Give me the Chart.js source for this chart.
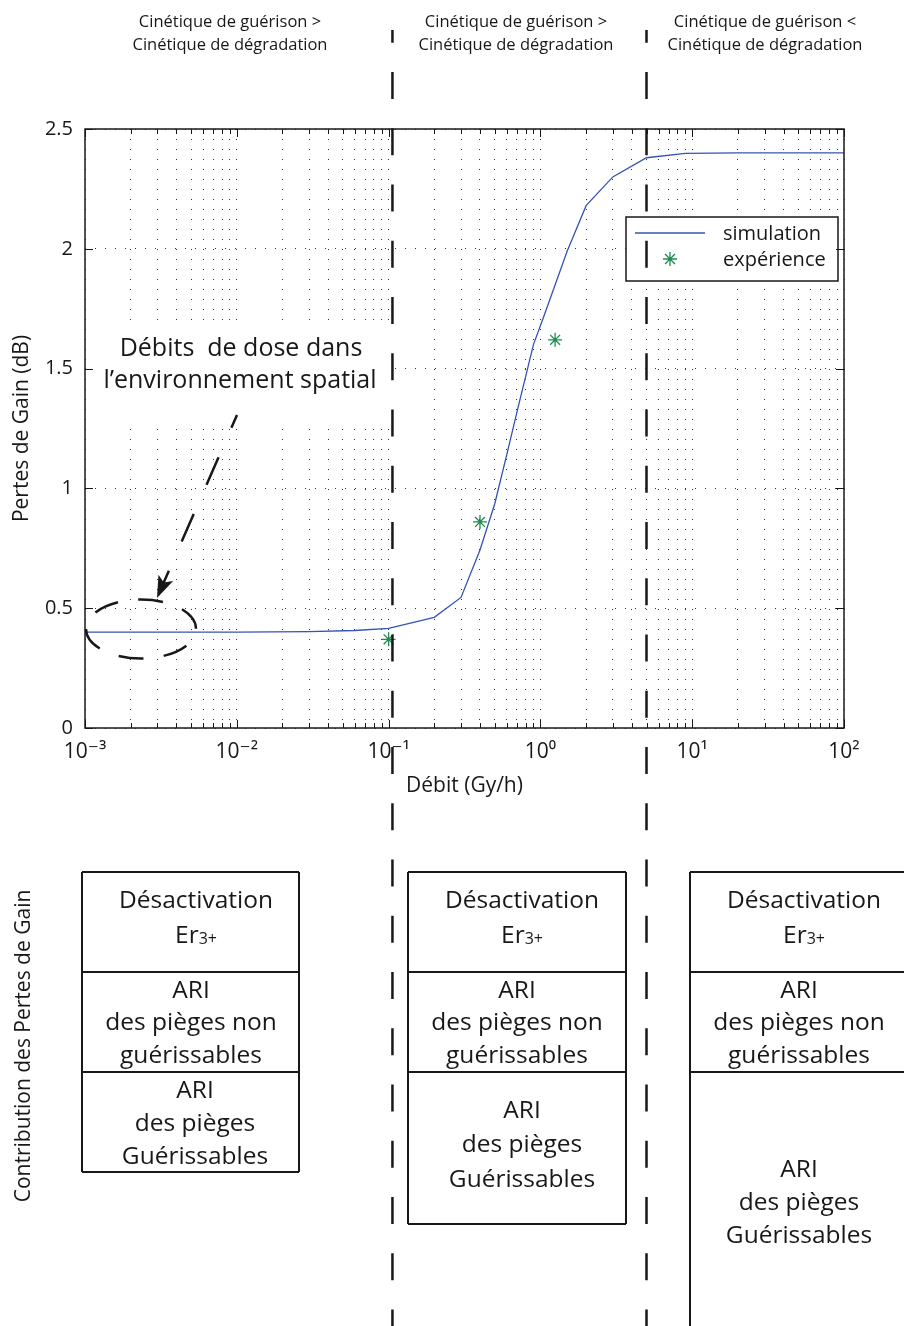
<!DOCTYPE html>
<html>
<head>
<meta charset="utf-8">
<script src="https://cdn.jsdelivr.net/npm/chart.js@4.4.0/dist/chart.umd.min.js"></script>
<style>
  body { margin: 0; background: #fff; }
  #wrap { width: 904px; height: 1326px; }
</style>
</head>
<body>
<div id="wrap"><canvas id="fig" width="904" height="1326"></canvas></div>
<script>
// simulation : pertes de gain (dB) vs débit de dose (Gy/h)
var simX = [0.001, 0.01, 0.03, 0.06, 0.1, 0.2, 0.3, 0.4, 0.5, 0.6, 0.72, 0.9, 1.05, 1.5, 2, 3, 5, 9, 20, 100];
var simY = [0.400, 0.400, 0.402, 0.407, 0.416, 0.462, 0.545, 0.743, 0.935, 1.14, 1.35, 1.60, 1.715, 1.99, 2.18, 2.30, 2.38, 2.398, 2.40, 2.40];

// mesures
var expX = [0.1, 0.4, 1.25];
var expY = [0.37, 0.86, 1.62];

// axe x logarithmique : décades étiquetées + graduations mineures
var decades = [0.001, 0.01, 0.1, 1, 10, 100];
var decadeLabels = ['10⁻³', '10⁻²', '10⁻¹', '10⁰', '10¹', '10²'];
var minorSteps = [2, 3, 4, 5, 6, 7, 8, 9];
var yMin = 0, yMax = 2.5, yStep = 0.5;

// limites entre régimes (Gy/h)
var regimeLimits = [0.106, 5];
var regimeTitles = [
  ['Cinétique de guérison >', 'Cinétique de dégradation'],
  ['Cinétique de guérison >', 'Cinétique de dégradation'],
  ['Cinétique de guérison <', 'Cinétique de dégradation']
];

// contenu des boîtes
var rowDesact = ['Désactivation', 'Er', '3+'];
var rowNonGuer = ['ARI', 'des pièges non', 'guérissables'];
var rowGuer = ['ARI', 'des pièges', 'Guérissables'];

var FONT = '"Open Sans", "DejaVu Sans", sans-serif';
var INK = '#1a1718';
var BLUE = '#3454b4';
var GREEN = '#1e8c4e';

function txt(ctx, s, x, y, size, align) {
  ctx.font = size + 'px ' + FONT;
  ctx.textAlign = align || 'center';
  ctx.textBaseline = 'alphabetic';
  ctx.fillText(s, x, y);
}

var figure = {
  id: 'figure',
  beforeDatasetsDraw: function (chart) {
    var ctx = chart.ctx;
    ctx.save();
    ctx.fillStyle = '#fff';
    ctx.fillRect(86, 322, 304, 99);
    ctx.restore();
  },
  afterDatasetsDraw: function (chart) {
    var ctx = chart.ctx;
    ctx.save();
    ctx.fillStyle = INK;
    ctx.strokeStyle = INK;
    // annotation
    txt(ctx, 'Débits  de dose dans', 241, 356, 25);
    txt(ctx, 'l’environnement spatial', 240, 388, 25);

    // flèche en tirets
    var x0 = 237, y0 = 415, tx = 157, ty = 598;
    ctx.lineWidth = 2.5;
    ctx.setLineDash([30, 32]);
    ctx.lineDashOffset = 16;
    ctx.beginPath();
    ctx.moveTo(x0, y0);
    ctx.lineTo(tx + 3, ty - 7);
    ctx.stroke();
    ctx.setLineDash([]);
    var L = Math.hypot(tx - x0, ty - y0);
    var ux = (tx - x0) / L, uy = (ty - y0) / L;
    var bx = tx - 22 * ux, by = ty - 22 * uy;
    var nx = bx + 5 * ux, ny = by + 5 * uy;
    ctx.beginPath();
    ctx.moveTo(tx, ty);
    ctx.lineTo(bx - 8 * uy, by + 8 * ux);
    ctx.lineTo(nx, ny);
    ctx.lineTo(bx + 8 * uy, by - 8 * ux);
    ctx.closePath();
    ctx.fill();

    // ellipse en tirets
    ctx.setLineDash([25, 20.3]);
    ctx.lineDashOffset = 0;
    ctx.beginPath();
    ctx.ellipse(141, 629, 55, 29.5, 0, Math.PI, -Math.PI, true);
    ctx.stroke();
    ctx.setLineDash([]);

    // légende
    ctx.fillStyle = '#fff';
    ctx.fillRect(626, 217, 212, 64);
    ctx.lineWidth = 1.5;
    ctx.strokeRect(626, 217, 212, 64);
    ctx.strokeStyle = BLUE;
    ctx.lineWidth = 1.3;
    ctx.beginPath();
    ctx.moveTo(635, 233);
    ctx.lineTo(705, 233);
    ctx.stroke();
    ctx.strokeStyle = GREEN;
    Chart.helpers.drawPoint(ctx, {pointStyle: 'star', radius: 7, rotation: 0, borderWidth: 1.3}, 670, 259);
    ctx.fillStyle = INK;
    txt(ctx, 'simulation', 723, 240, 20, 'left');
    txt(ctx, 'expérience', 723, 266, 20, 'left');
    ctx.restore();
  },
  afterDraw: function (chart) {
    var ctx = chart.ctx;
    var a = chart.chartArea;
    var xs = chart.scales.x, ys = chart.scales.y;
    ctx.save();
    ctx.strokeStyle = INK;
    ctx.fillStyle = INK;

    // graduations intérieures
    ctx.lineWidth = 1;
    xs.ticks.forEach(function (t) {
      var px = Math.round(xs.getPixelForValue(t.value)) + 0.5;
      var len = decades.indexOf(t.value) >= 0 ? 8 : 5;
      ctx.beginPath();
      ctx.moveTo(px, a.bottom); ctx.lineTo(px, a.bottom - len);
      ctx.moveTo(px, a.top); ctx.lineTo(px, a.top + len);
      ctx.stroke();
    });
    ys.ticks.forEach(function (t) {
      var py = Math.round(ys.getPixelForValue(t.value)) + 0.5;
      ctx.beginPath();
      ctx.moveTo(a.left, py); ctx.lineTo(a.left + 8, py);
      ctx.moveTo(a.right, py); ctx.lineTo(a.right - 8, py);
      ctx.stroke();
    });
    // cadre
    ctx.lineWidth = 1.5;
    ctx.strokeRect(a.left, a.top, a.right - a.left, a.bottom - a.top);

    // limites de régime
    ctx.lineWidth = 2.5;
    ctx.setLineDash([27, 29.25]);
    ctx.lineDashOffset = 14.25;
    regimeLimits.forEach(function (v) {
      var px = xs.getPixelForValue(v);
      ctx.beginPath();
      ctx.moveTo(px, 30);
      ctx.lineTo(px, 1326);
      ctx.stroke();
    });
    ctx.setLineDash([]);

    // titres des régimes
    var centers = [230, 516, 765];
    regimeTitles.forEach(function (lines, i) {
      txt(ctx, lines[0], centers[i], 27, 16.5);
      txt(ctx, lines[1], centers[i], 50, 16.5);
    });

    // boîtes de contribution
    var boxes = [
      {l: 82, r: 299, b: 1172, cx: [196, 191, 195], g: [1098, 1131, 1164]},
      {l: 408, r: 626, b: 1224, cx: [522, 517, 522], g: [1118, 1152, 1187]},
      {l: 690, r: 910, b: null, cx: [804, 799, 799], g: [1177, 1210, 1243]}
    ];
    ctx.lineWidth = 2;
    boxes.forEach(function (bx) {
      var bottom = bx.b === null ? 1330 : bx.b;
      ctx.beginPath();
      [872, 972, 1072].forEach(function (y) { ctx.moveTo(bx.l, y); ctx.lineTo(bx.r, y); });
      ctx.moveTo(bx.l, 872); ctx.lineTo(bx.l, bottom);
      if (bx.b !== null) {
        ctx.moveTo(bx.r, 872); ctx.lineTo(bx.r, bottom);
        ctx.moveTo(bx.l, bottom); ctx.lineTo(bx.r, bottom);
      }
      ctx.stroke();

      txt(ctx, rowDesact[0], bx.cx[0], 908, 24.5);
      ctx.font = '24.5px ' + FONT;
      var w1 = ctx.measureText(rowDesact[1]).width;
      ctx.font = '16px ' + FONT;
      var w2 = ctx.measureText(rowDesact[2]).width;
      var sx = bx.cx[0] - (w1 + w2) / 2;
      txt(ctx, rowDesact[1], sx, 943, 24.5, 'left');
      txt(ctx, rowDesact[2], sx + w1, 944, 16, 'left');

      [998, 1030, 1063].forEach(function (y, k) { txt(ctx, rowNonGuer[k], bx.cx[1], y, 24.5); });
      bx.g.forEach(function (y, k) { txt(ctx, rowGuer[k], bx.cx[2], y, 24.5); });
    });

    // titre vertical
    ctx.translate(30, 1046);
    ctx.rotate(-Math.PI / 2);
    txt(ctx, 'Contribution des Pertes de Gain', 0, 0, 21);
    ctx.restore();
  }
};

var ctx = document.getElementById('fig').getContext('2d');
var chart = new Chart(ctx, {
  type: 'line',
  data: {
    datasets: [{
      label: 'simulation',
      data: simX.map(function (x, i) { return {x: x, y: simY[i]}; }),
      borderColor: BLUE,
      borderWidth: 1.3,
      pointRadius: 0,
      tension: 0,
      fill: false
    }, {
      label: 'expérience',
      data: expX.map(function (x, i) { return {x: x, y: expY[i]}; }),
      showLine: false,
      pointStyle: 'star',
      pointRadius: 7,
      borderColor: GREEN,
      borderWidth: 1.3
    }]
  },
  options: {
    responsive: false,
    animation: false,
    devicePixelRatio: 1,
    layout: { padding: { left: 0, right: 60, top: 129, bottom: 527 } },
    plugins: { legend: { display: false }, tooltip: { enabled: false } },
    scales: {
      x: {
        type: 'logarithmic',
        min: decades[0],
        max: decades[decades.length - 1],
        afterBuildTicks: function (scale) {
          var t = [];
          decades.forEach(function (d, i) {
            t.push({value: d});
            if (i < decades.length - 1) {
              minorSteps.forEach(function (m) { t.push({value: +(d * m).toPrecision(6)}); });
            }
          });
          scale.ticks = t;
        },
        afterFit: function (scale) { scale.height = 71; },
        ticks: {
          autoSkip: false,
          maxRotation: 0,
          padding: 11,
          color: INK,
          font: { family: FONT, size: 21 },
          callback: function (v) {
            var i = decades.indexOf(v);
            return i >= 0 ? decadeLabels[i] : '';
          }
        },
        grid: { color: '#333', lineWidth: 1, drawTicks: false },
        border: { display: false, dash: [1, 9] },
        title: {
          display: true,
          text: 'Débit (Gy/h)',
          color: INK,
          font: { family: FONT, size: 21 },
          padding: { top: 0, bottom: 0 }
        }
      },
      y: {
        min: yMin,
        max: yMax,
        afterFit: function (scale) { scale.width = 85; },
        ticks: {
          stepSize: yStep,
          padding: 12,
          color: INK,
          font: { family: FONT, size: 20 },
          callback: function (v) { return String(+v.toFixed(1)); }
        },
        grid: { color: '#333', lineWidth: 1, drawTicks: false },
        border: { display: false, dash: [1, 9] },
        title: {
          display: true,
          text: 'Pertes de Gain (dB)',
          color: INK,
          font: { family: FONT, size: 21 },
          padding: { top: 9, bottom: 0 }
        }
      }
    }
  },
  plugins: [figure]
});
</script>
</body>
</html>
